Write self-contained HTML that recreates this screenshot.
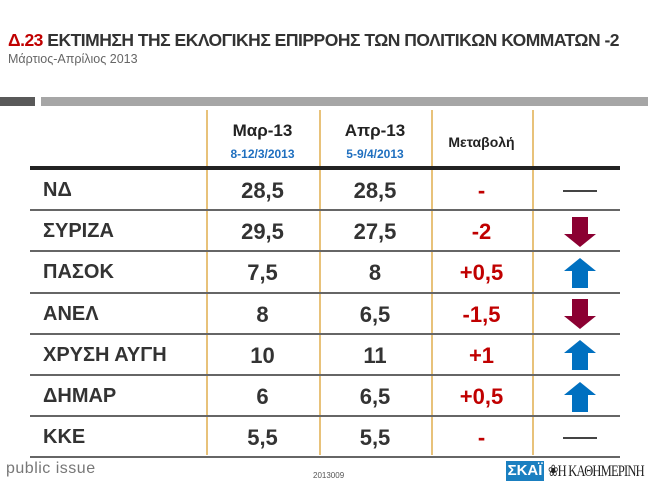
<!DOCTYPE html>
<html><head><meta charset="utf-8"><style>
body{margin:0;width:648px;height:486px;background:#fff;position:relative;overflow:hidden;font-family:"Liberation Sans","DejaVu Sans",sans-serif}
.a{position:absolute}
svg{display:block}
</style></head><body>
<div class="a" style="left:8px;top:30px;font-size:17.5px;font-weight:bold;color:#333;letter-spacing:-0.5px;white-space:nowrap"><span style="color:#c00000">Δ.23</span> ΕΚΤΙΜΗΣΗ ΤΗΣ ΕΚΛΟΓΙΚΗΣ ΕΠΙΡΡΟΗΣ ΤΩΝ ΠΟΛΙΤΙΚΩΝ ΚΟΜΜΑΤΩΝ -2</div>
<div class="a" style="left:8px;top:52px;font-size:12.5px;color:#666">Μάρτιος-Απρίλιος 2013</div>
<div class="a" style="left:0;top:97px;width:35px;height:9px;background:#595959"></div>
<div class="a" style="left:41px;top:97px;width:607px;height:9px;background:#a6a6a6"></div>
<div id="tbl"></div>
<div class="a" style="left:6px;top:460px;font-size:16px;color:#777;letter-spacing:0.5px">public issue</div>
<div class="a" style="left:313px;top:471px;font-size:8px;color:#555">2013009</div>
<div class="a" style="left:506px;top:461px;width:38px;height:20px;background:#1a7fc0;color:#fff;font-weight:bold;font-size:15px;text-align:center;line-height:20px">ΣΚΑΪ</div>
<div class="a" style="left:548px;top:461px;font-family:'Liberation Serif',serif;font-size:16px;color:#222;letter-spacing:-1px;transform:scaleX(0.78);transform-origin:left;white-space:nowrap">❀Η ΚΑΘΗΜΕΡΙΝΗ</div>
<script>
const parties=["ΝΔ","ΣΥΡΙΖΑ","ΠΑΣΟΚ","ΑΝΕΛ","ΧΡΥΣΗ ΑΥΓΗ","ΔΗΜΑΡ","ΚΚΕ"];
const mar=["28,5","29,5","7,5","8","10","6","5,5"];
const apr=["28,5","27,5","8","6,5","11","6,5","5,5"];
const change=["-","-2","+0,5","-1,5","+1","+0,5","-"];
const trend=["flat","down","up","down","up","up","flat"];
const T=document.getElementById('tbl');
function mk(name,style,html){const d=document.createElement('div');d.className='a';d.setAttribute('style',style);if(html!==undefined)d.innerHTML=html;


T.appendChild(d);return d;}
const cols=[206,319,431,532];
const top0=110,head=168,rowH=41.2,L=30,R=620;
cols.forEach((x,i)=>mk('column-divider-'+i,`left:${x}px;top:${top0}px;width:1.5px;height:${455-top0}px;background:#e8c27a`));
mk('header-mar',`left:206px;top:121px;width:113px;font-size:17px;font-weight:bold;color:#222;text-align:center`,'Μαρ-13');
mk('header-mar-dates',`left:206px;top:147px;width:113px;font-size:12px;font-weight:bold;color:#1f6fbf;text-align:center`,'8-12/3/2013');
mk('header-apr',`left:319px;top:121px;width:112px;font-size:17px;font-weight:bold;color:#222;text-align:center`,'Απρ-13');
mk('header-apr-dates',`left:319px;top:147px;width:112px;font-size:12px;font-weight:bold;color:#1f6fbf;text-align:center`,'5-9/4/2013');
mk('header-change',`left:431px;top:134px;width:101px;font-size:14px;font-weight:bold;color:#222;text-align:center`,'Μεταβολή');
mk('header-rule',`left:${L}px;top:166px;width:${R-L}px;height:4px;background:#222`);
parties.forEach((p,i)=>{
 const y=head+i*rowH;
 mk('row-rule-'+i,`left:${L}px;top:${Math.round(y+rowH)}px;width:${R-L}px;height:2px;background:#666`);
 const ty=Math.round(y+2);
 const base=`top:${ty}px;height:${Math.round(rowH)}px;line-height:${Math.round(rowH)}px;font-weight:bold;white-space:nowrap;`;
 mk('party-label',base+`left:43px;font-size:20px;color:#333`,p);
 mk('mar-value',base+`left:206px;width:113px;font-size:22px;color:#333;text-align:center`,mar[i]);
 mk('apr-value',base+`left:319px;width:112px;font-size:22px;color:#333;text-align:center`,apr[i]);
 mk('change-value',base+`left:431px;width:101px;font-size:22px;color:#c00000;text-align:center`,change[i]);
 const cy=y+rowH/2+2, cx=580;
 let svg='';
 if(trend[i]==='flat') svg=`<svg width="34" height="2"><rect width="34" height="2" fill="#444"/></svg>`;
 else if(trend[i]==='down') svg=`<svg width="34" height="30"><polygon points="9,0 25,0 25,17 33,17 17,30 1,17 9,17" fill="#8b0032"/></svg>`;
 else svg=`<svg width="34" height="30"><polygon points="17,0 33,13 25,13 25,30 9,30 9,13 1,13" fill="#0070c0"/></svg>`;
 const h=trend[i]==='flat'?2:30;
 mk('trend-icon-'+trend[i],`left:${cx-17}px;top:${Math.round(cy-h/2)}px;width:34px;height:${h}px`,svg);
});
</script>
</body></html>
